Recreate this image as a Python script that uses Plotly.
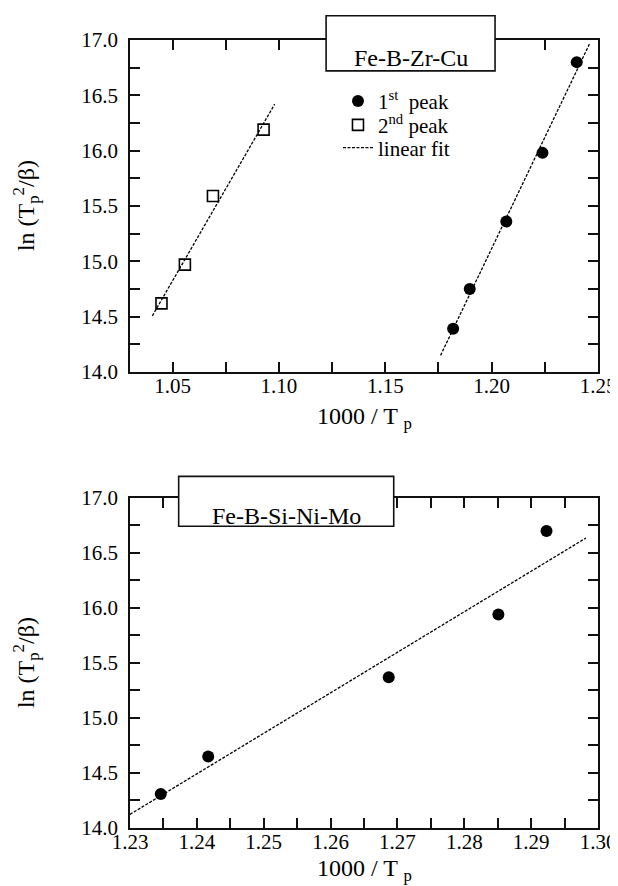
import numpy as np
import plotly.graph_objects as go

# ---------------- data ----------------
# Fe-B-Zr-Cu
zr_peak1_x = [1.1819, 1.1897, 1.2069, 1.2239, 1.2400]
zr_peak1_y = [14.39, 14.75, 15.36, 15.98, 16.80]
zr_peak2_x = [1.0448, 1.0558, 1.0690, 1.0928]
zr_peak2_y = [14.62, 14.97, 15.59, 16.19]
zr_fit1_span = [1.176, 1.246]
zr_fit2_span = [1.0405, 1.098]

# Fe-B-Si-Ni-Mo
mo_x = [1.2346, 1.2417, 1.2687, 1.2851, 1.2923]
mo_y = [14.31, 14.65, 15.37, 15.94, 16.70]
mo_fit_span = [1.230, 1.2982]

# tick labels
top_x_ticks = [1.05, 1.10, 1.15, 1.20, 1.25]
top_x_labels = ["1.05", "1.10", "1.15", "1.20", "1.25"]
bot_x_ticks = [1.23, 1.24, 1.25, 1.26, 1.27, 1.28, 1.29, 1.30]
bot_x_labels = ["1.23", "1.24", "1.25", "1.26", "1.27", "1.28", "1.29", "1.30"]
y_ticks = [14.0, 14.5, 15.0, 15.5, 16.0, 16.5, 17.0]
y_labels = ["14.0", "14.5", "15.0", "15.5", "16.0", "16.5", "17.0"]

titles = ["Fe-B-Zr-Cu", "Fe-B-Si-Ni-Mo"]
legend_names = ["1<sup>st</sup>  peak", "2<sup>nd</sup> peak", "linear fit"]
x_title = "1000 / T <sub>p</sub>"
y_title = "ln (T<sub>p</sub><sup>2</sup>/β)"


def fit_line(x, y, span):
    k, b = np.polyfit(x, y, 1)
    xs = np.array(span)
    return xs, k * xs + b


FONT = "Liberation Serif, Times New Roman, DejaVu Serif, serif"
INK = "#111111"
fit_style = dict(color="black", width=1.3, dash="3px,1.5px")

fig = go.Figure()

fig.add_trace(go.Scatter(
    x=zr_peak1_x, y=zr_peak1_y, mode="markers", name=legend_names[0],
    marker=dict(symbol="circle", size=12, color="black"),
    xaxis="x", yaxis="y", legend="legend"))
fig.add_trace(go.Scatter(
    x=zr_peak2_x, y=zr_peak2_y, mode="markers", name=legend_names[1],
    marker=dict(symbol="square-open", size=11, color="black",
                line=dict(width=1.6, color="black")),
    xaxis="x", yaxis="y", legend="legend2"))

fx, fy = fit_line(zr_peak1_x, zr_peak1_y, zr_fit1_span)
fig.add_trace(go.Scatter(x=fx, y=fy, mode="lines", name=legend_names[2],
                         line=fit_style, xaxis="x", yaxis="y",
                         legend="legend3"))
fx, fy = fit_line(zr_peak2_x, zr_peak2_y, zr_fit2_span)
fig.add_trace(go.Scatter(x=fx, y=fy, mode="lines", showlegend=False,
                         line=fit_style, xaxis="x", yaxis="y"))

fig.add_trace(go.Scatter(
    x=mo_x, y=mo_y, mode="markers", showlegend=False,
    marker=dict(symbol="circle", size=12, color="black"),
    xaxis="x2", yaxis="y2"))
fx, fy = fit_line(mo_x, mo_y, mo_fit_span)
fig.add_trace(go.Scatter(x=fx, y=fy, mode="lines", showlegend=False,
                         line=fit_style, xaxis="x2", yaxis="y2"))


def make_axis(domain, anchor, rng, tvals, ttext, minor_dt, minor_t0,
              standoff):
    return dict(
        domain=domain, anchor=anchor, range=rng, autorange=False,
        showline=True, linecolor=INK, linewidth=1.6, mirror="ticks",
        ticks="inside", ticklen=10, tickwidth=2, tickcolor=INK,
        showgrid=False, zeroline=False, ticklabelstandoff=standoff,
        tickmode="array", tickvals=tvals, ticktext=ttext,
        tickfont=dict(family=FONT, size=21, color="black"),
        minor=dict(dtick=minor_dt, tick0=minor_t0, ticks="inside",
                   ticklen=10, tickwidth=2, tickcolor=INK, showgrid=False),
    )


legend_common = dict(xanchor="left", yanchor="middle",
                     bgcolor="rgba(0,0,0,0)", borderwidth=0,
                     font=dict(family=FONT, size=21, color="black"),
                     itemwidth=30)

fig.update_layout(
    template="none",
    width=618, height=886,
    margin=dict(l=122, r=28, t=32, b=66),
    paper_bgcolor="white", plot_bgcolor="white",
    font=dict(family=FONT, size=21, color="black"),
    xaxis=make_axis([0, 1], "y", [1.03, 1.25], top_x_ticks, top_x_labels,
                    0.025, 1.025, -6),
    yaxis=make_axis([0.5787, 1], "x", [14, 17], y_ticks, y_labels,
                    0.25, 14, 6),
    xaxis2=make_axis([0, 1], "y2", [1.23, 1.30], bot_x_ticks, bot_x_labels,
                     0.005, 1.23, -6),
    yaxis2=make_axis([0, 0.4188], "x2", [14, 17], y_ticks, y_labels,
                     0.25, 14, 6),
    legend=dict(legend_common, x=0.4444, y=0.9222),
    legend2=dict(legend_common, x=0.4444, y=0.8918),
    legend3=dict(legend_common, x=0.4444, y=0.8629),
    showlegend=True,
)

title_font = dict(family=FONT, size=24, color="black")

# axis titles (placed relative to each subplot's domain)
for xr, yr, xt_y in [("x domain", "y domain", -0.14),
                     ("x2 domain", "y2 domain", -0.127)]:
    fig.add_annotation(xref=xr, yref=yr, x=0.5, y=xt_y, text=x_title,
                       showarrow=False, xanchor="center", yanchor="middle",
                       font=title_font)
    fig.add_annotation(xref=xr, yref=yr, x=-0.222, y=0.5, text=y_title,
                       showarrow=False, textangle=-90, xanchor="center",
                       yanchor="middle", font=title_font)

# title boxes
boxes = [("x domain", "y domain", 0.419, 0.78, 0.907, 1.073, 0.5995, 0.99),
         ("x2 domain", "y2 domain", 0.104, 0.5635, 0.9144, 1.0655, 0.334, 0.99)]
for (xr, yr, x0, x1, y0, y1, tx, ty), t in zip(boxes, titles):
    fig.add_shape(type="rect", xref=xr, yref=yr, x0=x0, x1=x1, y0=y0, y1=y1,
                  line=dict(color=INK, width=1.6), fillcolor="white",
                  layer="above")
    fig.add_annotation(xref=xr, yref=yr, x=tx, y=ty, text=t, showarrow=False,
                       font=title_font)

fig.write_html("out.html")
